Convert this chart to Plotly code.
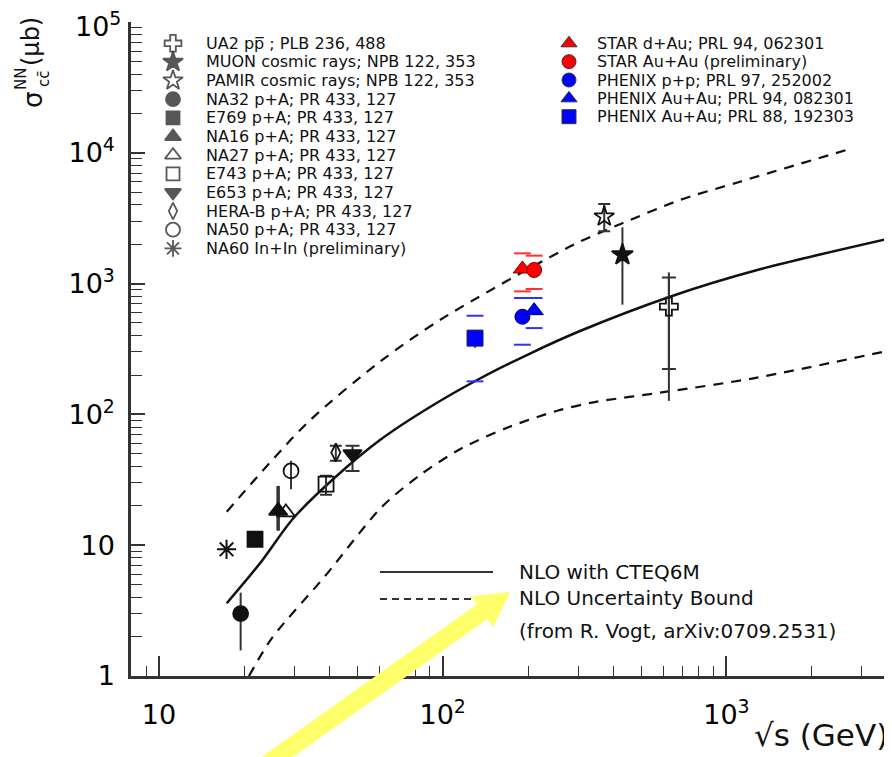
import plotly.graph_objects as go

# ---------------- data ----------------
# NLO with CTEQ6M (central curve)
nlo_x = [17.33, 22.7, 29.75, 41.7, 60.1, 90.2, 135.3, 203.1, 304.8, 632.6, 1313, 3835]
nlo_y = [3.60, 7.27, 16.06, 32.9, 63.7, 113.9, 188.2, 292.1, 434.0, 794, 1286, 2232]
# NLO uncertainty bounds
upper_x = [17.33, 33.2, 60.1, 97.8, 288, 432, 686, 1117, 2794]
upper_y = [18.0, 85.5, 252.9, 527, 1973, 2906, 4357, 6015, 10880]
lower_x = [20.76, 24.97, 38.5, 61.0, 83.2, 116.7, 170.3, 253.5, 339.6, 616, 1244, 3835]
lower_y = [1.0, 1.94, 5.81, 19.6, 34.4, 55.1, 79.7, 106.7, 123.7, 149.1, 188.8, 310.8]

# measurements: sqrt(s) [GeV], sigma [mub], error limits
ua2_x, ua2_y = [627], [666]
ua2_stat_hi, ua2_stat_lo = [1115], [222]
ua2_tot_hi, ua2_tot_lo = [1218], [127]
muon_x, muon_y, muon_hi, muon_lo = [430], [1664], [2692], [690]
pamir_x, pamir_y, pamir_hi, pamir_lo = [371], [3250], [4064], [2510]
na32_x, na32_y, na32_hi, na32_lo = [19.4], [3.0], [4.34], [1.57]
e769_x, e769_y = [21.8], [11.1]
na16_x, na16_y, na16_hi, na16_lo = [26.3], [18.3], [28.4], [12.9]
na27_x, na27_y = [28.0], [17.8]
e743_x, e743_y, e743_hi, e743_lo = [38.8], [29.3], [33.9], [24.3]
e653_x, e653_y, e653_hi, e653_lo = [48.1], [49.7], [57.5], [37.0]
herab_x, herab_y, herab_hi, herab_lo = [42.0], [51.1], [57.5], [44.2]
na50_x, na50_y, na50_hi, na50_lo = [29.2], [37.0], [44.2], [26.8]
na60_x, na60_y = [17.3], [9.3]
star_dau_x, star_dau_y, star_dau_shi, star_dau_slo = [191], [1294], [1703], [872]
star_auau_x, star_auau_y, star_auau_shi, star_auau_slo = [210], [1271], [1635], [909]
phx_pp_x, phx_pp_y, phx_pp_shi, phx_pp_slo = [191], [558], [776], [341]
phx_auau_x, phx_auau_y, phx_auau_shi, phx_auau_slo = [210], [621], [776], [457]
phx_130_x, phx_130_y = [130], [383]
phx_130_hi, phx_130_lo = [442], [322]
phx_130_shi, phx_130_slo = [568], [179]

xtick_vals = [10, 100, 1000]
xtick_text = ["10", "10<sup>2</sup>", "10<sup>3</sup>"]
xminor_vals = [8, 9] + [d * 10 for d in range(2, 10)] + [d * 100 for d in range(2, 10)] + [2000, 3000]
ytick_vals = [1, 10, 100, 1000, 10000, 100000]
ytick_text = ["1", "10", "10<sup>2</sup>", "10<sup>3</sup>", "10<sup>4</sup>", "10<sup>5</sup>"]
yminor_vals = [d * 10 ** e for e in range(0, 5) for d in range(2, 10)]

legend_left = [
    ("UA2 pp\u0305 ; PLB 236, 488", "cross-open", 14),
    ("MUON cosmic rays; NPB 122, 353", "star", 15),
    ("PAMIR cosmic rays; NPB 122, 353", "star-open", 15),
    ("NA32 p+A; PR 433, 127", "circle", 14),
    ("E769 p+A; PR 433, 127", "square", 13),
    ("NA16 p+A; PR 433, 127", "triangle-up", 14),
    ("NA27 p+A; PR 433, 127", "triangle-up-open", 14),
    ("E743 p+A; PR 433, 127", "square-open", 13),
    ("E653 p+A; PR 433, 127", "triangle-down", 14),
    ("HERA-B p+A; PR 433, 127", "diamond-tall-open", 12),
    ("NA50 p+A; PR 433, 127", "circle-open", 14),
    ("NA60 In+In (preliminary)", "asterisk-open", 14),
]
legend_right = [
    ("STAR d+Au; PRL 94, 062301", "triangle-up", "#ff0000"),
    ("STAR Au+Au (preliminary)", "circle", "#ff0000"),
    ("PHENIX p+p; PRL 97, 252002", "circle", "#0000ff"),
    ("PHENIX Au+Au; PRL 94, 082301", "triangle-up", "#0000ff"),
    ("PHENIX Au+Au; PRL 88, 192303", "square", "#0000ff"),
]

# ---------------- layout helpers ----------------
OFF = 8                      # page body margin of the html page
W, H = 892 - OFF, 757 - OFF  # figure size
L, R, T, B = 131 - OFF, 0, 22 - OFF, 757 - 676
PW, PH = W - L - R, H - T - B


def P(px, py):
    """screen pixel position -> paper coordinates"""
    return (px - OFF - L) / PW, (H - B - (py - OFF)) / PH


BLACK = "#111111"
ERR = "#333333"
RED = "#ff0000"
BLUE = "#0000ff"
TFONT = "DejaVu Sans"
TICK_FONT = dict(family=TFONT, size=27, color="black")

fig = go.Figure()


def add_curve(x, y, dash, width):
    fig.add_trace(go.Scatter(x=x, y=y, mode="lines",
                             line=dict(color=BLACK, width=width, dash=dash, shape="spline", smoothing=0.8),
                             hoverinfo="skip", showlegend=False))


add_curve(nlo_x, nlo_y, "solid", 2.5)
add_curve(upper_x, upper_y, "10px,8px", 2.2)
add_curve(lower_x, lower_y, "10px,8px", 2.2)


def errs(y, hi, lo, cap, thick=2):
    return dict(type="data", symmetric=False,
                array=[h - v for h, v in zip(hi, y)],
                arrayminus=[v - l for l, v in zip(lo, y)],
                color=ERR, thickness=thick, width=cap)


def add_point(x, y, symbol, size, color, err=None, edge=None, lw=1.8):
    fig.add_trace(go.Scatter(x=x, y=y, mode="markers", cliponaxis=False,
                             marker=dict(symbol=symbol, size=size, color=color,
                                         line=dict(color=edge or color, width=lw)),
                             error_y=err, showlegend=False, hoverinfo="skip"))


# UA2: total error (no caps) + stat error (caps)
fig.add_trace(go.Scatter(x=ua2_x, y=ua2_y, mode="markers", marker=dict(size=1, color="rgba(0,0,0,0)"),
                         error_y=errs(ua2_y, ua2_tot_hi, ua2_tot_lo, 0), showlegend=False, hoverinfo="skip"))
add_point(ua2_x, ua2_y, "cross-open", 15, BLACK, errs(ua2_y, ua2_stat_hi, ua2_stat_lo, 7))
add_point(muon_x, muon_y, "star", 16, BLACK, errs(muon_y, muon_hi, muon_lo, 0))
add_point(pamir_x, pamir_y, "star-open", 15, BLACK, errs(pamir_y, pamir_hi, pamir_lo, 6))
add_point(na32_x, na32_y, "circle", 15, BLACK, errs(na32_y, na32_hi, na32_lo, 0))
add_point(e769_x, e769_y, "square", 15, BLACK)
add_point(na16_x, na16_y, "triangle-up", 16, BLACK, errs(na16_y, na16_hi, na16_lo, 0, 3.5))
add_point(na27_x, na27_y, "triangle-up-open", 16, BLACK)
add_point(na50_x, na50_y, "circle-open", 15, BLACK, errs(na50_y, na50_hi, na50_lo, 0))
add_point(e743_x, e743_y, "square-open", 15, BLACK, errs(e743_y, e743_hi, e743_lo, 6))
add_point(herab_x, herab_y, "diamond-tall-open", 13, BLACK, errs(herab_y, herab_hi, herab_lo, 6))
add_point(e653_x, e653_y, "triangle-down", 16, BLACK, errs(e653_y, e653_hi, e653_lo, 7))
add_point(na60_x, na60_y, "asterisk-open", 16, BLACK, lw=2)

# RHIC points
add_point(phx_130_x, phx_130_y, "square", 16, BLUE, errs(phx_130_y, phx_130_hi, phx_130_lo, 0, 1.5), edge="#222244", lw=1)
add_point(phx_pp_x, phx_pp_y, "circle", 15, BLUE, edge="#000066", lw=1)
add_point(phx_auau_x, phx_auau_y, "triangle-up", 16, BLUE, edge="#000066", lw=1)
add_point(star_dau_x, star_dau_y, "triangle-up", 16, RED, edge="#880000", lw=1)
add_point(star_auau_x, star_auau_y, "circle", 15, RED, edge="#880000", lw=1)


def add_sys(x, hi, lo, color):
    fig.add_trace(go.Scatter(x=x + x, y=hi + lo, mode="markers", cliponaxis=False,
                             marker=dict(symbol="line-ew", size=12, line=dict(color=color, width=2)),
                             showlegend=False, hoverinfo="skip"))


add_sys(phx_130_x, phx_130_shi, phx_130_slo, "#3030ff")
add_sys(phx_pp_x, phx_pp_shi, phx_pp_slo, "#3030ff")
add_sys(phx_auau_x, phx_auau_shi, phx_auau_slo, "#3030ff")
add_sys(star_dau_x, star_dau_shi, star_dau_slo, "#ff3030")
add_sys(star_auau_x, star_auau_shi, star_auau_slo, "#ff3030")

# ---------------- legend (manual, on an overlay pixel axis) ----------------
annotations = []
left_x_sym, left_x_txt, left_y0, left_dy = 173, 205, 43.3, 18.64
right_x_sym, right_x_txt, right_y0, right_dy = 569, 596, 43.3, 18.35
LEG_FONT = dict(family="DejaVu Sans", size=16, color=BLACK)

lx, ly, lsym, lsize = [], [], [], []
for i, (txt, sym, sz) in enumerate(legend_left):
    yy = left_y0 + i * left_dy
    lx.append(left_x_sym - OFF); ly.append(yy - OFF); lsym.append(sym); lsize.append(sz)
    ax_, ay_ = P(left_x_txt, yy)
    annotations.append(dict(x=ax_, y=ay_, xref="paper", yref="paper", text=txt, showarrow=False,
                            xanchor="left", yanchor="middle", borderpad=0, font=LEG_FONT))
fig.add_trace(go.Scatter(x=lx, y=ly, mode="markers", xaxis="x2", yaxis="y2", cliponaxis=False,
                         marker=dict(symbol=lsym, size=lsize, color=BLACK, line=dict(color=BLACK, width=1.8)),
                         showlegend=False, hoverinfo="skip"))

rx, ry, rsym, rcol = [], [], [], []
for i, (txt, sym, col) in enumerate(legend_right):
    yy = right_y0 + i * right_dy
    rx.append(right_x_sym - OFF); ry.append(yy - OFF); rsym.append(sym); rcol.append(col)
    ax_, ay_ = P(right_x_txt, yy)
    annotations.append(dict(x=ax_, y=ay_, xref="paper", yref="paper", text=txt, showarrow=False,
                            xanchor="left", yanchor="middle", borderpad=0, font=LEG_FONT))
fig.add_trace(go.Scatter(x=rx, y=ry, mode="markers", xaxis="x2", yaxis="y2", cliponaxis=False,
                         marker=dict(symbol=rsym, size=14, color=rcol, line=dict(color="#333333", width=1)),
                         showlegend=False, hoverinfo="skip"))

# NLO legend
for txt, yy in [("NLO with CTEQ6M", 572), ("NLO Uncertainty Bound", 598), ("(from R. Vogt, arXiv:0709.2531)", 631)]:
    ax_, ay_ = P(517, yy)
    annotations.append(dict(x=ax_, y=ay_, xref="paper", yref="paper", text=txt, showarrow=False,
                            xanchor="left", yanchor="middle",
                            font=dict(family="DejaVu Sans", size=20, color=BLACK)))

shapes = []
x0, y0 = P(380, 572); x1, _ = P(493, 572)
shapes.append(dict(type="line", xref="paper", yref="paper", x0=x0, y0=y0, x1=x1, y1=y0,
                   line=dict(color="#333333", width=1.8)))
x0, y0 = P(380, 599); x1, _ = P(480, 599)
shapes.append(dict(type="line", xref="paper", yref="paper", x0=x0, y0=y0, x1=x1, y1=y0,
                   line=dict(color="#333333", width=1.8, dash="7px,5px")))

# yellow arrow
tip = (510, 592)
ux, uy = 0.816, -0.578
nx, ny = -uy, ux
head_len, head_hw, shaft_hw = 34, 19, 9
tail_len = 300
bx, by = tip[0] - head_len * ux, tip[1] - head_len * uy
tx, ty = tip[0] - tail_len * ux, tip[1] - tail_len * uy
pts = [(tx + shaft_hw * nx, ty + shaft_hw * ny), (bx + shaft_hw * nx, by + shaft_hw * ny),
       (bx + head_hw * nx, by + head_hw * ny), tip,
       (bx - head_hw * nx, by - head_hw * ny), (bx - shaft_hw * nx, by - shaft_hw * ny),
       (tx - shaft_hw * nx, ty - shaft_hw * ny)]
path = "M " + " L ".join("%.5f %.5f" % P(px, py) for px, py in pts) + " Z"
shapes.append(dict(type="path", xref="paper", yref="paper", path=path, fillcolor="#ffff6a",
                   line=dict(width=0), layer="above"))

# axis titles
ax_, ay_ = P(752, 735)
annotations.append(dict(x=ax_, y=ay_, xref="paper", yref="paper", text="\u221as (GeV)", showarrow=False,
                        xanchor="left", yanchor="middle", font=dict(family=TFONT, size=31, color=BLACK)))
for txt, px, py, sz in [("(\u03bcb)", 31, 42, 24), ("\u03c3", 33, 100, 26), ("NN", 21, 79, 15), ("cc\u0304", 44, 79, 15)]:
    ax_, ay_ = P(px, py)
    annotations.append(dict(x=ax_, y=ay_, xref="paper", yref="paper", text=txt, showarrow=False, textangle=-90,
                            xanchor="center", yanchor="middle", font=dict(family=TFONT, size=sz, color=BLACK)))

# the top y tick label sits partly above the page, so it is placed as an annotation at the 10^5 tick
annotations.append(dict(x=0, y=5, xref="paper", yref="y", text=ytick_text[-1], showarrow=False,
                        xanchor="right", yanchor="middle", xshift=-8, yshift=-2, font=TICK_FONT))
ytick_shown = ytick_text[:-1] + [""]

axis_common = dict(showgrid=False, zeroline=False, showline=True, linecolor="#333333", linewidth=2.5,
                   ticks="inside", tickwidth=1.6, tickcolor="#333333", tickfont=TICK_FONT)

fig.update_layout(
    width=W, height=H, margin=dict(l=L, r=R, t=T, b=B),
    paper_bgcolor="white", plot_bgcolor="white", showlegend=False,
    xaxis=dict(type="log", range=[0.9013, 3.5837], tickmode="array", tickvals=xtick_vals, ticktext=xtick_text,
               ticklen=20, ticklabelstandoff=13,
               minor=dict(ticks="inside", ticklen=10, tickwidth=1.4, tickcolor="#333333",
                          tickmode="array", tickvals=xminor_vals, showgrid=False),
               **axis_common),
    yaxis=dict(type="log", range=[0, 5], tickmode="array", tickvals=ytick_vals, ticktext=ytick_shown,
               ticklen=14, ticklabelstandoff=8,
               minor=dict(ticks="inside", ticklen=11, tickwidth=1.4, tickcolor="#333333",
                          tickmode="array", tickvals=yminor_vals, showgrid=False),
               **axis_common),
    xaxis2=dict(overlaying="x", range=[L, W - R], visible=False, fixedrange=True),
    yaxis2=dict(overlaying="y", range=[H - B, T], visible=False, fixedrange=True),
    annotations=annotations, shapes=shapes,
)

fig.write_html("out.html")
